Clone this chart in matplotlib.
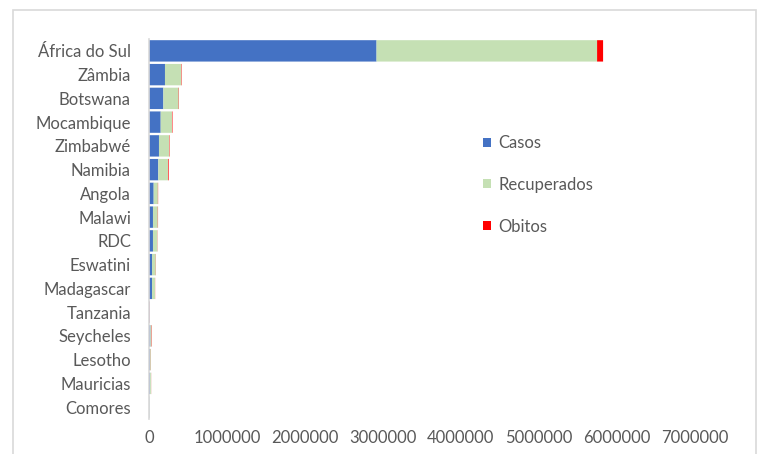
import numpy as np
import matplotlib
matplotlib.use("Agg")
from matplotlib import pyplot as plt
from matplotlib.patches import Rectangle
from matplotlib.ticker import FuncFormatter, MultipleLocator

plt.rcParams["font.family"] = ["Lato", "DejaVu Sans"]

paises = ["África do Sul", "Zâmbia", "Botswana", "Mocambique", "Zimbabwé", "Namibia",
          "Angola", "Malawi", "RDC", "Eswatini", "Madagascar", "Tanzania",
          "Seycheles", "Lesotho", "Mauricias", "Comores"]
casos = [2920000, 205000, 184000, 150000, 128000, 119000, 60000, 51000,
         51000, 39000, 39000, 6000, 18000, 14000, 15000, 3500]
recuperados = [2830000, 210000, 197000, 145000, 132000, 125000, 54000, 62000,
               56000, 47000, 38000, 500, 14000, 9000, 12000, 3000]
obitos = [77000, 5000, 4000, 6000, 5000, 8000, 3000, 3000,
          2000, 2000, 1500, 3000, 4000, 1500, 1000, 150]

cor_casos = "#4472C4"
cor_recup = "#C5E0B4"
cor_obitos = "#FF0000"
cinza = "#595959"

fig = plt.figure(figsize=(7.62, 4.54), dpi=100)
ax = fig.add_axes([149 / 762, 1 - 419 / 454, (694.5 - 149) / 762, (419 - 39) / 454])

y = np.arange(len(paises))
casos = np.array(casos)
recuperados = np.array(recuperados)
obitos = np.array(obitos)

ax.barh(y, casos, height=0.9, color=cor_casos, label="Casos", snap=False)
ax.barh(y, recuperados, left=casos, height=0.9, color=cor_recup,
        label="Recuperados", snap=False)
ax.barh(y, obitos, left=casos + recuperados, height=0.9, color=cor_obitos,
        label="Obitos", snap=False)

ax.set_ylim(len(paises) - 0.5, -0.5)
ax.set_xlim(0, 7000000)
ax.set_yticks(y)
ax.set_yticklabels(paises)
ax.xaxis.set_major_locator(MultipleLocator(1000000))
ax.xaxis.set_major_formatter(FuncFormatter(lambda v, p: "%d" % v))

for s in ["top", "right", "bottom"]:
    ax.spines[s].set_visible(False)
ax.spines["left"].set_color("#d9d9d9")
ax.spines["left"].set_linewidth(1.2)
ax.tick_params(axis="both", length=0, labelsize=12, labelcolor=cinza)
ax.tick_params(axis="y", pad=13)
ax.tick_params(axis="x", pad=8)

fig.legend(loc="upper left", bbox_to_anchor=(483 / 762, 1 - 135 / 454),
           frameon=False, fontsize=12, labelcolor=cinza, handlelength=0.45,
           handleheight=0.45, handletextpad=0.45, labelspacing=1.55,
           borderpad=0, borderaxespad=0)

# moldura do grafico (cortada em baixo)
fig.add_artist(Rectangle((13 / 762, -0.1), (756 - 13) / 762, 1.1 - 10 / 454,
                         transform=fig.transFigure, fill=False,
                         edgecolor="#d9d9d9", linewidth=1.2))

fig.savefig("out.png", dpi=100)
